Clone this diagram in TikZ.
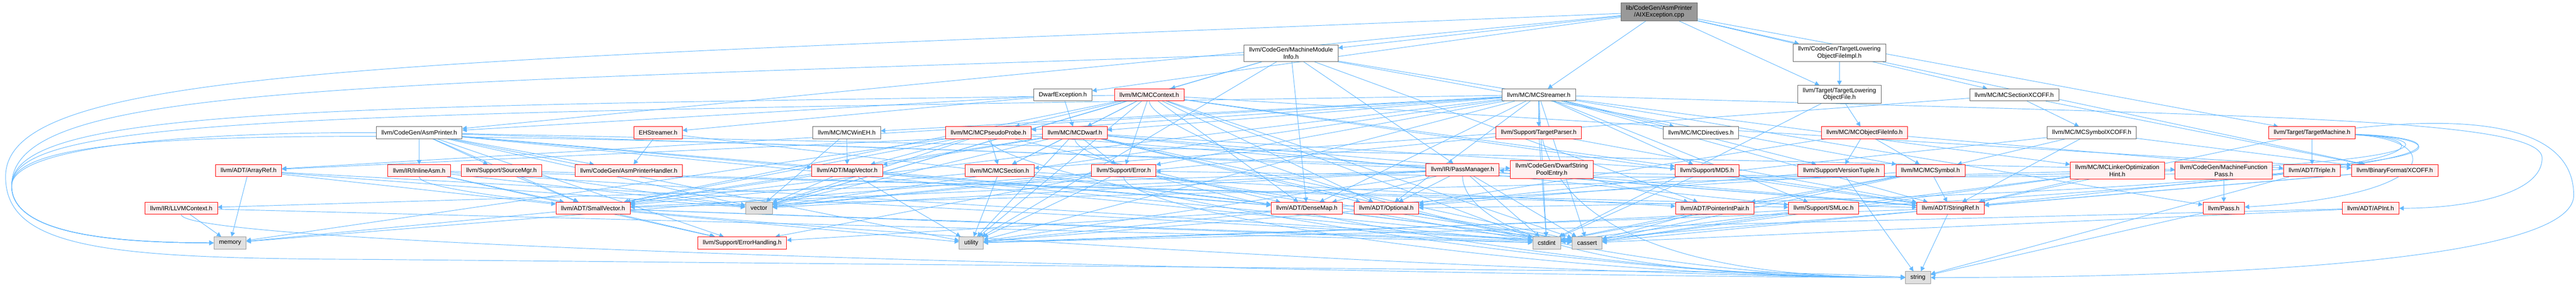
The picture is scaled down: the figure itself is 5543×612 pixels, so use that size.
\documentclass[tikz,border=0pt]{standalone}
\usepackage{fontspec}
\setmainfont{Liberation Sans}
\usepackage{xcolor}
\usepackage{tikz}
\usetikzlibrary{arrows.meta,backgrounds}
\definecolor{edgeblue}{HTML}{63B8FF}
\definecolor{rootgray}{HTML}{999999}
\definecolor{bordergray}{HTML}{666666}
\definecolor{truncfill}{HTML}{FFF0F0}
\definecolor{sysgray}{HTML}{999999}
\definecolor{sysfill}{HTML}{E0E0E0}
\begin{document}
\begin{tikzpicture}[x=0.01cm, y=-0.01cm,
    box/.style={rectangle, draw, line width=0.3pt, inner xsep=3.1pt, inner ysep=1.6pt, minimum height=0.26cm, align=center, font=\fontsize{3.75}{4.25}\selectfont},
    rootbox/.style={box, draw=bordergray, fill=rootgray},
    plainbox/.style={box, draw=bordergray, fill=white},
    truncbox/.style={box, draw=red, fill=truncfill},
    sysbox/.style={box, draw=sysgray, fill=sysfill},
    every edge/.style={draw=edgeblue, line width=0.3pt, -{Triangle[length=2.7pt,width=2.8pt]}},
    tostr/.style={to path={.. controls +(0,90) and (3300,597) .. (\tikztotarget)}},
    loopmem/.style={to path={.. controls (700,#1) and (25,#1) .. (25,400) .. controls (25,505) and (250,522) .. (\tikztotarget)}},
    loopstr/.style={to path={.. controls (900,#1) and (12,#1) .. (12,380) .. controls (12,540) and (250,556) .. (800,558) -- (3800,586) .. controls (3950,590) .. (\tikztotarget)}},
    rloop/.style={to path={.. controls (#1,300) and (#1,420) .. (\tikztotarget)}},
    bigrloop/.style={to path={.. controls (5400,240) and (5538,300) .. (5538,420) .. controls (5538,560) and (4800,597) .. (\tikztotarget)}},
    apintloop/.style={to path={.. controls (4800,250) and (5470,250) .. (5470,340) .. controls (5470,420) and (5300,448) .. (\tikztotarget)}}]
    \useasboundingbox (0,0) rectangle (5543,612);
    % top
    \node (root) [rootbox] at (3570,25.5) {lib/CodeGen/AsmPrinter\\/AIXException.cpp};
    \node (mmi) [plainbox] at (2778,114.5) {llvm/CodeGen/MachineModule\\Info.h};
    \node (tlofimpl) [plainbox] at (3958,113.5) {llvm/CodeGen/TargetLowering\\ObjectFileImpl.h};
    % second row
    \node (dwarfexc) [plainbox] at (2287,204) {DwarfException.h};
    \node (mccontext) [truncbox] at (2473,204) {llvm/MC/MCContext.h};
    \node (mcstreamer) [plainbox] at (3311,204) {llvm/MC/MCStreamer.h};
    \node (tlof) [plainbox] at (3958,203) {llvm/Target/TargetLowering\\ObjectFile.h};
    \node (mcsecxcoff) [plainbox] at (4334,204) {llvm/MC/MCSectionXCOFF.h};
    % third row
    \node (asmprinter) [plainbox] at (902,285.5) {llvm/CodeGen/AsmPrinter.h};
    \node (ehstreamer) [truncbox] at (1416,285.5) {EHStreamer.h};
    \node (mcwineh) [plainbox] at (1822,285.5) {llvm/MC/MCWinEH.h};
    \node (mcpseudoprobe) [truncbox] at (2127,285.5) {llvm/MC/MCPseudoProbe.h};
    \node (mcdwarf) [truncbox] at (2313,285.5) {llvm/MC/MCDwarf.h};
    \node (targetparser) [truncbox] at (3311,285.5) {llvm/Support/TargetParser.h};
    \node (mcdirectives) [plainbox] at (3660,285.5) {llvm/MC/MCDirectives.h};
    \node (mcobjfileinfo) [truncbox] at (4012,285.5) {llvm/MC/MCObjectFileInfo.h};
    \node (mcsymxcoff) [plainbox] at (4501,285.5) {llvm/MC/MCSymbolXCOFF.h};
    \node (targetmachine) [truncbox] at (4975,285.5) {llvm/Target/TargetMachine.h};
    % fourth row
    \node (arrayref) [truncbox] at (535,367) {llvm/ADT/ArrayRef.h};
    \node (inlineasm) [truncbox] at (902,367) {llvm/IR/InlineAsm.h};
    \node (sourcemgr) [truncbox] at (1079,367) {llvm/Support/SourceMgr.h};
    \node (asmprinterhandler) [truncbox] at (1353,367) {llvm/CodeGen/AsmPrinterHandler.h};
    \node (mapvector) [truncbox] at (1823,367) {llvm/ADT/MapVector.h};
    \node (mcsection) [truncbox] at (2151,367) {llvm/MC/MCSection.h};
    \node (error) [truncbox] at (2418,367) {llvm/Support/Error.h};
    \node (passmanager) [truncbox] at (3147,365) {llvm/IR/PassManager.h};
    \node (dwarfstrpool) [truncbox] at (3339,365) {llvm/CodeGen/DwarfString\\PoolEntry.h};
    \node (md5) [truncbox] at (3673,367) {llvm/Support/MD5.h};
    \node (versiontuple) [truncbox] at (3962,367) {llvm/Support/VersionTuple.h};
    \node (mcsymbol) [truncbox] at (4154,367) {llvm/MC/MCSymbol.h};
    \node (mcloh) [truncbox] at (4556,367) {llvm/MC/MCLinkerOptimization\\Hint.h};
    \node (mfpass) [truncbox] at (4785,367) {llvm/CodeGen/MachineFunction\\Pass.h};
    \node (triple) [truncbox] at (4975,367) {llvm/ADT/Triple.h};
    \node (xcoff) [truncbox] at (5153,367) {llvm/BinaryFormat/XCOFF.h};
    % fifth row
    \node (llvmcontext) [truncbox] at (390,448) {llvm/IR/LLVMContext.h};
    \node (smallvector) [truncbox] at (1276,448) {llvm/ADT/SmallVector.h};
    \node (vector) [sysbox] at (1633,448) {vector};
    \node (densemap) [truncbox] at (2812,448) {llvm/ADT/DenseMap.h};
    \node (optional) [truncbox] at (2983,448) {llvm/ADT/Optional.h};
    \node (pointerintpair) [truncbox] at (3690,448) {llvm/ADT/PointerIntPair.h};
    \node (smloc) [truncbox] at (3924,448) {llvm/Support/SMLoc.h};
    \node (stringref) [truncbox] at (4197,448) {llvm/ADT/StringRef.h};
    \node (pass) [truncbox] at (4785,448) {llvm/Pass.h};
    \node (apint) [truncbox] at (5101,448) {llvm/ADT/APInt.h};
    % bottom
    \node (memory) [sysbox] at (495,522.5) {memory};
    \node (errorhandling) [truncbox] at (1597,522.5) {llvm/Support/ErrorHandling.h};
    \node (utility) [sysbox] at (2090,522.5) {utility};
    \node (cstdint) [sysbox] at (3328,522.5) {cstdint};
    \node (cassert) [sysbox] at (3415,522.5) {cassert};
    \node (string) [sysbox] at (4127,597) {string};

    \begin{scope}[on background layer]
    \path (root) edge (dwarfexc) edge (asmprinter) edge (mmi) edge (tlofimpl)
        edge (mcsecxcoff) edge (mcstreamer) edge (tlof) edge (targetmachine)
        edge[loopstr=135] (string);
    \path (dwarfexc) edge (ehstreamer) edge (asmprinter) edge (mcdwarf);
    \path (ehstreamer) edge (asmprinterhandler) edge (densemap);
    \path (mmi) edge (mccontext) edge (densemap) edge (passmanager) edge (pointerintpair)
        edge (mcsymbol) edge (pass) edge[loopmem=185] (memory) edge (utility) edge (vector);
    \path (tlofimpl) edge (tlof) edge (xcoff);
    \path (tlof) edge (mcobjfileinfo) edge (cstdint);
    \path (mcsecxcoff) edge (mcsymxcoff) edge (xcoff) edge (mcsection);
    \path (mcstreamer) edge (arrayref) edge (densemap) edge (optional) edge (smallvector)
        edge (stringref) edge (mcdirectives) edge (mcdwarf) edge (mcloh)
        edge (mcpseudoprobe) edge (mcwineh) edge (error) edge (md5) edge (smloc)
        edge (targetparser) edge (versiontuple) edge (cassert) edge (cstdint)
        edge[loopmem=245] (memory) edge[tostr] (string) edge (utility) edge (vector)
        edge[apintloop] (apint);
    \path (asmprinter) edge (densemap) edge (mapvector) edge (smallvector)
        edge (asmprinterhandler) edge (dwarfstrpool) edge (mfpass) edge (inlineasm)
        edge (sourcemgr) edge (errorhandling) edge (cstdint) edge[loopmem=285] (memory)
        edge (utility) edge (vector);
    \path (mccontext) edge (densemap) edge (optional) edge (smallvector) edge (stringref)
        edge (xcoff) edge (mcdwarf) edge (mcpseudoprobe) edge (mcsection) edge (error)
        edge (md5) edge (cassert) edge (cstdint) edge[loopmem=230] (memory)
        edge[tostr] (string) edge (utility) edge (vector);
    \path (mcwineh) edge (mapvector) edge (vector);
    \path (mcpseudoprobe) edge (mapvector) edge (mcsection) edge (densemap)
        edge (smallvector) edge (stringref) edge (memory) edge[tostr] (string)
        edge (vector);
    \path (mcdwarf) edge (mapvector) edge (optional) edge (smallvector) edge (stringref)
        edge (mcsection) edge (error) edge (md5) edge (smloc) edge (cassert)
        edge (cstdint) edge[tostr] (string) edge (utility) edge (vector) edge (arrayref);
    \path (targetparser) edge (stringref) edge (cstdint) edge (vector);
    \path (mcobjfileinfo) edge (optional) edge (triple) edge (mcsymbol) edge (versiontuple);
    \path (mcsymxcoff) edge (optional) edge (stringref) edge (xcoff) edge (mcsymbol);
    \path (targetmachine) edge[rloop=5300] (optional) edge (stringref) edge (triple)
        edge[rloop=5360] (passmanager) edge[rloop=5330] (error) edge[rloop=5260] (pass)
        edge[bigrloop] (string) edge[rloop=5390] (utility);
    \path (arrayref) edge (memory) edge (smallvector) edge (cassert) edge (vector);
    \path (llvmcontext) edge (memory) edge (cstdint) edge[tostr] (string);
    \path (inlineasm) edge (smallvector) edge (stringref) edge (errorhandling)
        edge (cassert) edge[tostr] (string) edge (vector);
    \path (sourcemgr) edge (smallvector) edge (smloc) edge (vector);
    \path (mapvector) edge (densemap) edge (smallvector) edge (cassert)
        edge (utility) edge (vector);
    \path (mcsection) edge (pointerintpair) edge (smallvector) edge (cassert) edge (utility);
    \path (error) edge (errorhandling) edge (cassert) edge (cstdint) edge (memory)
        edge[tostr] (string) edge (utility) edge (vector);
    \path (passmanager) edge (densemap) edge (optional) edge (smallvector)
        edge (stringref) edge (llvmcontext) edge (cassert) edge (cstdint)
        edge[loopmem=265] (memory) edge[tostr] (string) edge (utility) edge (vector);
    \path (dwarfstrpool) edge (pointerintpair);
    \path (md5) edge (stringref) edge (cstdint);
    \path (versiontuple) edge (optional) edge (string);
    \path (mcsymbol) edge (pointerintpair) edge (stringref) edge (errorhandling)
        edge (cassert) edge (cstdint);
    \path (mcloh) edge (smallvector) edge (stringref) edge (cassert) edge (cstdint);
    \path (mfpass) edge (pass);
    \path (triple) edge (stringref) edge (string);
    \path (xcoff) edge (stringref) edge (cstdint);
    \path (smallvector) edge (errorhandling) edge (cassert) edge (cstdint)
        edge (memory) edge (utility);
    \path (densemap) edge (cassert) edge (utility);
    \path (optional) edge (cassert) edge (utility);
    \path (pointerintpair) edge (cassert) edge (cstdint);
    \path (smloc) edge (cassert);
    \path (stringref) edge (cassert) edge (string) edge (utility);
    \path (pass) edge (string);
    \path (apint) edge (cassert) edge (utility);
    \end{scope}
\end{tikzpicture}
\end{document}
